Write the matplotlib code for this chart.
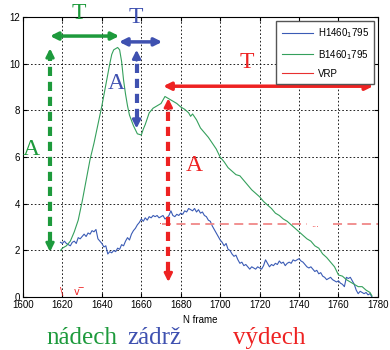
import matplotlib
matplotlib.use('Agg')
import matplotlib.pyplot as plt

# H1460_1795 (blue), one value per frame
hx = list(range(1619, 1778))
hy = [2.35, 2.3, 2.4, 2.3, 2.25, 2.2, 2.35, 2.4, 2.3, 2.55,
      2.5, 2.6, 2.7, 2.6, 2.75, 2.7, 2.85, 2.8, 2.9, 2.5,
      2.4, 2.3, 2.15, 2.2, 1.85, 1.95, 1.9, 2.0, 1.95, 2.1,
      2.05, 2.25, 2.2, 2.4, 2.55, 2.45, 2.7, 2.85, 2.95, 3.1,
      3.2, 3.35, 3.25, 3.4, 3.3, 3.45, 3.4, 3.5, 3.45, 3.5,
      3.4, 3.45, 3.5, 3.35, 3.4, 3.5, 3.7, 3.5, 3.45, 3.55,
      3.5, 3.6, 3.55, 3.7, 3.65, 3.8, 3.75, 3.7, 3.8, 3.65,
      3.75, 3.6, 3.65, 3.5, 3.45, 3.3, 3.25, 3.05, 2.9, 2.75,
      2.6, 2.45, 2.35, 2.2, 2.3, 2.05, 2.0, 1.85, 1.75, 1.8,
      1.6, 1.45, 1.5, 1.35, 1.4, 1.3, 1.2, 1.3, 1.25, 1.2,
      1.3, 1.25, 1.2, 1.35, 1.6, 1.45, 1.3, 1.4, 1.35, 1.45,
      1.4, 1.55, 1.45, 1.5, 1.35, 1.45, 1.5, 1.45, 1.6, 1.55,
      1.6, 1.65, 1.55, 1.5, 1.4, 1.3, 1.25, 1.3, 1.2, 1.1,
      1.15, 1.0, 1.05, 0.9, 0.85, 0.75, 0.8, 0.85, 0.75, 0.7,
      0.65, 0.7, 0.6, 0.55, 0.45, 0.85, 0.8, 0.85, 0.7, 0.55,
      0.3, 0.15, 0.25, 0.2, 0.15, 0.2, 0.1, 0.15, 0.0]

# B1460_1795 (green)
gx = [1619, 1620, 1622, 1624, 1626, 1628, 1630, 1632, 1634, 1636,
      1638, 1640, 1642, 1644, 1645, 1646, 1647, 1648, 1649, 1650,
      1651, 1652, 1653, 1654, 1656, 1658, 1660, 1661, 1662, 1664,
      1666, 1668, 1670, 1672, 1674, 1676, 1678, 1680, 1682, 1684,
      1685, 1686, 1688, 1690, 1692, 1694, 1696, 1698, 1700, 1702,
      1704, 1706, 1708, 1710, 1712, 1714, 1716, 1718, 1720, 1722,
      1724, 1726, 1728, 1730, 1732, 1734, 1736, 1738, 1740, 1742,
      1744, 1746, 1748, 1750, 1752, 1754, 1756, 1758, 1760, 1762,
      1764, 1766, 1768, 1770, 1772, 1774, 1776, 1777]
gy = [2.0, 2.1, 2.2, 2.4, 2.8, 3.3, 4.1, 5.0, 5.9, 6.6,
      7.4, 8.2, 9.1, 10.0, 10.4, 10.6, 10.65, 10.7, 10.6, 10.1,
      9.3, 8.7, 8.2, 7.8, 7.35, 7.0, 6.95, 7.2, 7.4, 7.9,
      8.1, 8.2, 8.3, 8.6, 8.5, 8.4, 8.3, 8.15, 8.05, 7.9,
      7.75, 7.85, 7.6, 7.25, 7.05, 6.85, 6.6, 6.35, 6.0, 5.8,
      5.55, 5.4, 5.25, 5.2, 5.0, 4.8, 4.6, 4.45, 4.3, 4.1,
      3.95, 3.8, 3.6, 3.5, 3.35, 3.25, 3.1, 2.95, 2.8, 2.65,
      2.5, 2.4, 2.2, 2.1, 1.85, 1.7, 1.5, 1.3, 0.95, 0.9,
      0.75, 0.65, 0.55, 0.45, 0.45, 0.3, 0.2, 0.05]

vrp_level = 3.13
xticks = list(range(1600, 1781, 20))
yticks = list(range(0, 13, 2))

green = '#1d9a3c'
blue = '#3f51b0'
red = '#ee2222'

fig = plt.figure(figsize=(3.9, 3.5), dpi=100)
ax = fig.add_axes([0.059, 0.151, 0.910, 0.800])

ax.plot(hx, hy, color='#3a5bb5', lw=0.8, label='H1460$_1$795')
ax.plot(gx, gy, color='#35a05c', lw=0.8, label='B1460$_1$795')
ax.plot([], [], color='#e83030', lw=0.8, label='VRP')

# VRP level line (light red, dashed)
ax.plot([1670.5, 1744], [vrp_level, vrp_level], color='#f08888', lw=1.3, ls=(0, (5, 3)))
ax.plot([1757, 1780], [vrp_level, vrp_level], color='#f08888', lw=1.3, ls=(0, (5, 3)))
ax.text(1748, vrp_level, '...', color=red, fontsize=6, ha='center', va='center')
ax.text(1669.5, vrp_level, '·', color=red, fontsize=7, ha='center', va='center')

ax.set_xlim(1600, 1780)
ax.set_ylim(0, 12)
ax.set_xticks(xticks)
ax.set_yticks(yticks)
ax.tick_params(direction='in', length=3, labelsize=7, top=True, right=True, pad=2)
for lab in ax.get_xticklabels() + ax.get_yticklabels():
    lab.set_family('Liberation Sans')
ax.grid(True, color='black', ls=(0, (2, 2.5)), lw=0.6)
for s in ax.spines.values():
    s.set_linewidth(0.8)
ax.set_xlabel('N frame', fontsize=7, family='Liberation Sans', labelpad=4)

leg = ax.legend(loc='upper right', prop={'family': 'Liberation Sans', 'size': 7},
                fancybox=False, framealpha=1, edgecolor='#555555',
                bbox_to_anchor=(0.99, 0.985), handlelength=3.2, handletextpad=0.5,
                borderpad=0.55, labelspacing=0.75, borderaxespad=0)
leg.get_frame().set_linewidth(1.0)


def harrow(x0, x1, y, color):
    ax.annotate('', xy=(x1, y), xytext=(x0, y),
                arrowprops=dict(arrowstyle='<|-|>', color=color, lw=2.5,
                                mutation_scale=11, shrinkA=0, shrinkB=0),
                annotation_clip=False)


def varrow(x, y0, y1, color):
    d = 0.45
    ax.plot([x, x], [y0 + d, y1 - d], color=color, lw=3, ls=(0, (2.2, 1.4)),
            solid_capstyle='butt', dash_capstyle='butt', clip_on=False)
    ax.annotate('', xy=(x, y1), xytext=(x, y1 - d),
                arrowprops=dict(arrowstyle='-|>', color=color, lw=2,
                                mutation_scale=12, shrinkA=0, shrinkB=0))
    ax.annotate('', xy=(x, y0), xytext=(x, y0 + d),
                arrowprops=dict(arrowstyle='-|>', color=color, lw=2,
                                mutation_scale=12, shrinkA=0, shrinkB=0))


serif = 'Liberation Serif'

# inhale (green)
harrow(1613.7, 1648.8, 11.19, green)
varrow(1613.7, 1.94, 10.66, green)
ax.text(1628.4, 12.15, 'T', color=green, fontsize=17, family=serif, ha='center', va='center', clip_on=False)
ax.text(1604.0, 6.34, 'A', color=green, fontsize=17, family=serif, ha='center', va='center', clip_on=False)

# hold (blue)
harrow(1648.7, 1670.6, 10.94, blue)
varrow(1657.6, 7.23, 10.6, blue)
ax.text(1657.3, 12.0, 'T', color=blue, fontsize=17, family=serif, ha='center', va='center', clip_on=False)
ax.text(1647.5, 9.16, 'A', color=blue, fontsize=17, family=serif, ha='center', va='center')

# exhale (red)
harrow(1671.1, 1777.6, 9.04, red)
varrow(1673.7, 0.65, 8.52, red)
ax.text(1713.4, 10.07, 'T', color=red, fontsize=17, family=serif, ha='center', va='center')
ax.text(1686.7, 5.66, 'A', color=red, fontsize=17, family=serif, ha='center', va='center')

# stray red marks near the x axis
ax.text(1619.7, 0.0, '\\', color=red, fontsize=7, ha='center', va='bottom')
ax.text(1628.5, 0.0, 'v\u203e', color=red, fontsize=7, ha='center', va='bottom')

# phase labels below the axis
fig.text(0.210, 0.034, 'nádech', color=green, fontsize=18, family=serif, ha='center', va='center')
fig.text(0.397, 0.034, 'zádrž', color=blue, fontsize=18, family=serif, ha='center', va='center')
fig.text(0.690, 0.034, 'výdech', color=red, fontsize=18, family=serif, ha='center', va='center')

plt.savefig('out.png', dpi=100)
